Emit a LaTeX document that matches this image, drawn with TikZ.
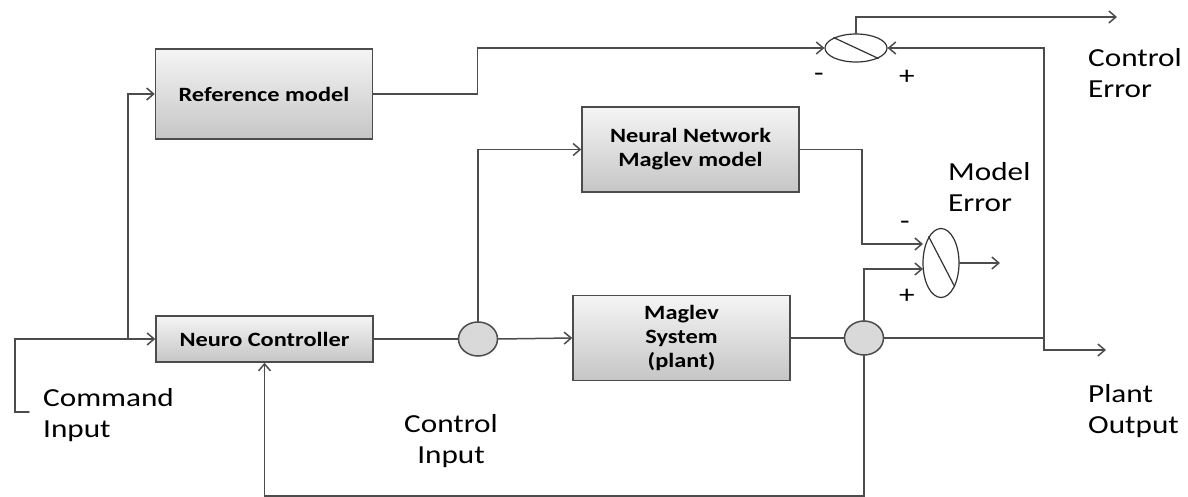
\documentclass[tikz,border=0pt]{standalone}
\usepackage{fontspec}
\setmainfont{Carlito}[FakeStretch=1.2]
\usepackage{tikz}
\usetikzlibrary{shapes.geometric,arrows.meta}

\newcommand{\labelfont}{\fontsize{26}{31}\selectfont}
\newcommand{\boxfont}{\fontsize{20.3}{24}\selectfont\bfseries}

\begin{document}
\begin{tikzpicture}
		[x=1pt,y=-1pt,line cap=round,
		%Styles
		>={Straight Barb[length=7pt,width=12pt]},
		wire/.style={draw=linecolor,line width=1.5pt},
		block/.style={draw=linecolor,line width=1.5pt,top color=gray!8,bottom color=gray!45,
			minimum width=217pt,inner sep=0pt,align=center,font=\boxfont},
		joint/.style={ellipse,draw=linecolor,line width=1.5pt,fill=gray!30,
			minimum width=39pt,minimum height=34pt,inner sep=0pt},
		summer/.style={ellipse,draw=black!80,line width=1.2pt,fill=white,inner sep=0pt},
		information text/.style={font=\labelfont,align=left,inner sep=0pt},
		sign/.style={font=\labelfont,inner sep=0pt}
		]
		
		%Colors
		\colorlet{linecolor}{black!70}	%wires and box borders
		
		\useasboundingbox (0,0) rectangle (1188,497);
		
		%Blocks
		\node[block,minimum height=90pt] (refmodel) at (264,94) {Reference model};
		\node[block,minimum height=46pt] (neuro) at (264.5,339) {Neuro Controller};
		\node[block,minimum height=85pt] (nnmodel) at (690.5,149.5) {Neural Network\\Maglev model};
		\node[block,minimum height=85pt] (maglev) at (681.5,338) {Maglev\\System\\(plant)};
		
		%Junctions and comparators
		\node[joint] (jctrl) at (478,339) {};
		\node[joint] (jout) at (864,338) {};
		\node[summer,minimum width=62pt,minimum height=28pt] (cmpctrl) at (856,48) {};
		\node[summer,minimum width=36pt,minimum height=69pt] (cmpmodel) at (941,263) {};
		\draw[black!80,line width=1.2pt] (cmpctrl.155) -- (cmpctrl.-25);
		\draw[black!80,line width=1.2pt] (cmpmodel.115) -- (cmpmodel.-60);
		
		%Free ends
		\coordinate (cmd) at (29,412);
		\coordinate (split) at (128,339);
		\coordinate (tap) at (1044,338);
		\coordinate (pout) at (1106,350);
		\coordinate (cerr) at (1117,17);
		\coordinate (merr) at (1000,263);
		\coordinate (mminus) at (923,244);
		\coordinate (mplus) at (923,269);
		\coordinate (fb) at (264.5,496);
		
		%The graphic
		\draw[wire,->] (cmd) -- ++(-14,0) |- (neuro.west);
		\draw[wire,->] (split) |- (refmodel.west);
		\draw[wire,->] (refmodel.east) -- ++(104,0) |- (cmpctrl.west);
		\draw[wire] (neuro.east) -- (jctrl.west);
		\draw[wire,->] (jctrl.north) |- (nnmodel.west);
		\draw[wire,->] (jctrl.east) -- (maglev.west);
		\draw[wire] (maglev.east) -- (jout.west);
		\draw[wire,->] (nnmodel.east) -- ++(62,0) |- (mminus);
		\draw[wire,->] (jout.north) |- (mplus);
		\draw[wire,->] (cmpmodel.east) -- (merr);
		\draw[wire] (jout.east) -- (tap);
		\draw[wire,->] (tap) -- ++(0,12) -- (pout);
		\draw[wire,->] (tap) |- (cmpctrl.east);
		\draw[wire,->] (cmpctrl.north) |- (cerr);
		\draw[wire,->] (jout.south) |- (fb) -- (neuro.south);
		
		%Signs
		\node[sign] (sminus) at (819,77) {-};
		\node[sign] (splus) at (907,77) {+};
		\node[sign] (mminussign) at (905,225) {-};
		\node[sign] (mplussign) at (907,296) {+};
		
		%Labels
		\node[information text,anchor=west] (cerrtext) at (1088,73) {Control\\Error};
		\node[information text,anchor=west] (merrtext) at (948,187) {Model\\Error};
		\node[information text,anchor=west] (cmdtext) at (43,415) {Command\\Input};
		\node[information text,align=center] (ctrltext) at (451,441) {Control\\Input};
		\node[information text,anchor=west] (pouttext) at (1088,411) {Plant\\Output};
	\end{tikzpicture}
\end{document}
